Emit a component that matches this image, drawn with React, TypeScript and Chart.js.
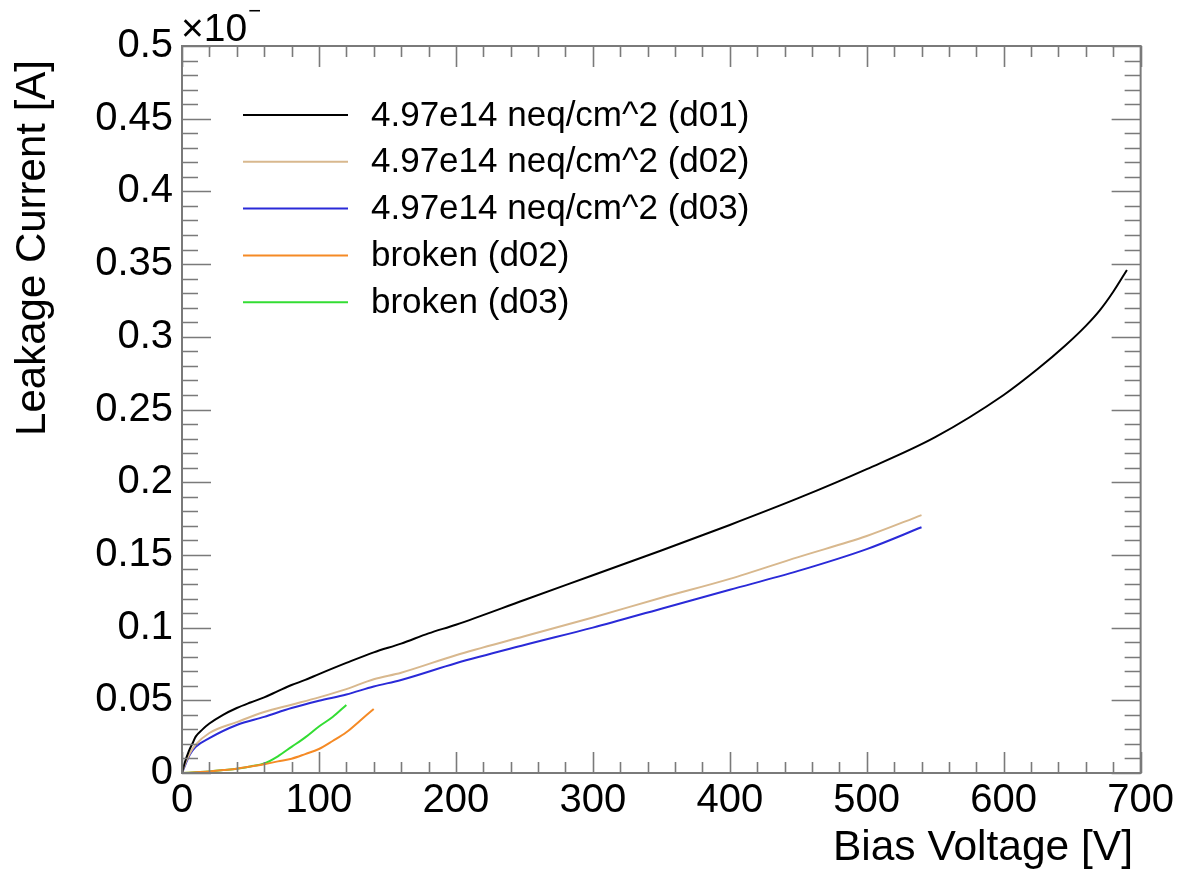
import React, { useEffect, useRef } from "react";
import { Chart, registerables } from "chart.js";
Chart.register(...registerables);

const FONT = "Liberation Sans, Arial, Helvetica, sans-serif";

// Data (Bias Voltage [V] vs Leakage Current [A])
const d01V = [0, 2, 5, 8, 10, 15, 20, 30, 40, 50, 60, 70, 80, 90, 100, 120, 140, 160, 180, 200, 250, 300, 350, 400, 450, 500, 550, 600, 625, 645, 660, 670, 680, 690];
const d01I = [0, 0.007, 0.015, 0.021, 0.025, 0.03, 0.034, 0.04, 0.0447, 0.0485, 0.052, 0.0563, 0.0605, 0.064, 0.068, 0.0757, 0.083, 0.089, 0.096, 0.102, 0.119, 0.136, 0.153, 0.1706, 0.189, 0.209, 0.231, 0.26, 0.278, 0.294, 0.3075, 0.318, 0.331, 0.346];

const d02V = [0, 3, 6, 10, 20, 40, 60, 80, 100, 120, 140, 160, 200, 250, 300, 350, 400, 450, 500, 540];
const d02I = [0, 0.008, 0.014, 0.0195, 0.0275, 0.035, 0.042, 0.047, 0.052, 0.0577, 0.0645, 0.069, 0.081, 0.094, 0.107, 0.1205, 0.1335, 0.1485, 0.163, 0.1774];

const d03V = [0, 3, 6, 10, 20, 40, 60, 80, 100, 120, 140, 160, 200, 250, 300, 350, 400, 450, 500, 540];
const d03I = [0, 0.007, 0.013, 0.018, 0.024, 0.033, 0.0386, 0.0447, 0.0497, 0.054, 0.0595, 0.064, 0.0755, 0.088, 0.1, 0.113, 0.126, 0.139, 0.154, 0.169];

const brokenD02V = [0, 10, 20, 30, 40, 50, 60, 70, 80, 90, 100, 110, 120, 130, 140];
const brokenD02I = [0, 0.0005, 0.001, 0.002, 0.003, 0.0045, 0.006, 0.008, 0.0098, 0.013, 0.0165, 0.022, 0.028, 0.036, 0.044];

const brokenD03V = [0, 10, 20, 30, 40, 50, 60, 70, 80, 90, 100, 110, 120];
const brokenD03I = [0, 0.0005, 0.001, 0.002, 0.003, 0.0045, 0.0065, 0.0115, 0.018, 0.0245, 0.032, 0.0385, 0.0468];

const seriesLabels = [
  "4.97e14 neq/cm^2 (d01)",
  "4.97e14 neq/cm^2 (d02)",
  "4.97e14 neq/cm^2 (d03)",
  "broken (d02)",
  "broken (d03)",
];
const seriesColors = ["#000000", "#d8b88e", "#2a2ad8", "#f58a25", "#33dd33"];

const xTickValues = [0, 100, 200, 300, 400, 500, 600, 700];
const yTickValues = [0, 0.05, 0.1, 0.15, 0.2, 0.25, 0.3, 0.35, 0.4, 0.45, 0.5];
const xTitle = "Bias Voltage [V]";
const yTitle = "Leakage Current [A]";
const exponentBase = "×10";
const exponentSup = "−";

const rootPlugin = {
  id: "rootStyle",
  afterDraw(chart: any) {
    const { ctx, chartArea: a, scales } = chart;
    const xs = scales.x;
    const ys = scales.y;
    ctx.save();
    ctx.strokeStyle = "#7a7a7a";
    ctx.lineWidth = 1.6;
    ctx.beginPath();
    for (let v = 0; v <= 700; v += 20) {
      const px = Math.round(xs.getPixelForValue(v)) + 0.5;
      const len = v % 100 === 0 ? 21 : 11;
      ctx.moveTo(px, a.bottom);
      ctx.lineTo(px, a.bottom - len);
      ctx.moveTo(px, a.top);
      ctx.lineTo(px, a.top + len);
    }
    for (let k = 0; k <= 50; k++) {
      const v = k / 100;
      const py = Math.round(ys.getPixelForValue(v)) + 0.5;
      const len = k % 5 === 0 ? 29 : 16;
      ctx.moveTo(a.left, py);
      ctx.lineTo(a.left + len, py);
      ctx.moveTo(a.right, py);
      ctx.lineTo(a.right - len, py);
    }
    ctx.stroke();
    ctx.lineWidth = 2;
    ctx.strokeRect(a.left, a.top, a.right - a.left, a.bottom - a.top);

    // legend
    const ds = chart.data.datasets;
    ctx.font = `35px ${FONT}`;
    ctx.textBaseline = "middle";
    ctx.textAlign = "left";
    ds.forEach((d: any, i: number) => {
      const y = 115 + i * 46.8;
      ctx.strokeStyle = d.borderColor;
      ctx.lineWidth = 2;
      ctx.beginPath();
      ctx.moveTo(243, y);
      ctx.lineTo(348, y);
      ctx.stroke();
      ctx.fillStyle = "#000";
      ctx.fillText(d.label, 371, y + 1);
    });

    // axis titles
    ctx.fillStyle = "#000";
    ctx.font = `42.5px ${FONT}`;
    ctx.textBaseline = "alphabetic";
    ctx.textAlign = "right";
    ctx.fillText(xTitle, 1133, 860);
    ctx.save();
    ctx.translate(45, 60);
    ctx.rotate(-Math.PI / 2);
    ctx.font = `42px ${FONT}`;
    ctx.textAlign = "right";
    ctx.fillText(yTitle, 0, 0);
    ctx.restore();

    // exponent label
    ctx.textAlign = "left";
    ctx.font = `39px ${FONT}`;
    ctx.fillText(exponentBase, 181, 41);
    const w = ctx.measureText(exponentBase).width;
    ctx.font = `22px ${FONT}`;
    ctx.fillText(exponentSup, 181 + w + 1, 18);
    ctx.restore();
  },
};

export default function App() {
  const ref = useRef<HTMLCanvasElement>(null);
  useEffect(() => {
    document.body.style.margin = "0";
    const xsData = [d01V, d02V, d03V, brokenD02V, brokenD03V];
    const ysData = [d01I, d02I, d03I, brokenD02I, brokenD03I];
    const chart = new Chart(ref.current!, {
      type: "line",
      data: {
        datasets: seriesLabels.map((label, k) => ({
          label,
          data: xsData[k].map((x, i) => ({ x, y: ysData[k][i] })),
          borderColor: seriesColors[k],
          backgroundColor: seriesColors[k],
          borderWidth: 2,
          pointRadius: 0,
          fill: false,
          cubicInterpolationMode: "monotone" as const,
        })),
      },
      options: {
        responsive: false,
        animation: false,
        layout: { padding: { top: 46, right: 36, left: 0, bottom: 0 } },
        plugins: { legend: { display: false }, tooltip: { enabled: false } },
        scales: {
          x: {
            type: "linear",
            min: 0,
            max: 700,
            afterFit: (s: any) => {
              s.height = 96;
            },
            afterBuildTicks: (s: any) => {
              s.ticks = xTickValues.map((value) => ({ value }));
            },
            grid: { display: false, drawTicks: false },
            border: { display: false },
            ticks: {
              font: { family: FONT, size: 40 },
              color: "#000",
              padding: 4,
              maxRotation: 0,
              autoSkip: false,
              callback: (v: any) => String(v),
            },
          },
          y: {
            type: "linear",
            min: 0,
            max: 0.5,
            afterFit: (s: any) => {
              s.width = 182;
            },
            afterBuildTicks: (s: any) => {
              s.ticks = yTickValues.map((value) => ({ value }));
            },
            grid: { display: false, drawTicks: false },
            border: { display: false },
            ticks: {
              font: { family: FONT, size: 40 },
              color: "#000",
              padding: 9,
              autoSkip: false,
              callback: (v: any) => String(v),
            },
          },
        },
      },
      plugins: [rootPlugin],
    });
    return () => chart.destroy();
  }, []);
  return (
    <div style={{ width: 1178, height: 869, background: "#fff" }}>
      <canvas ref={ref} width={1178} height={869} style={{ display: "block" }} />
    </div>
  );
}
